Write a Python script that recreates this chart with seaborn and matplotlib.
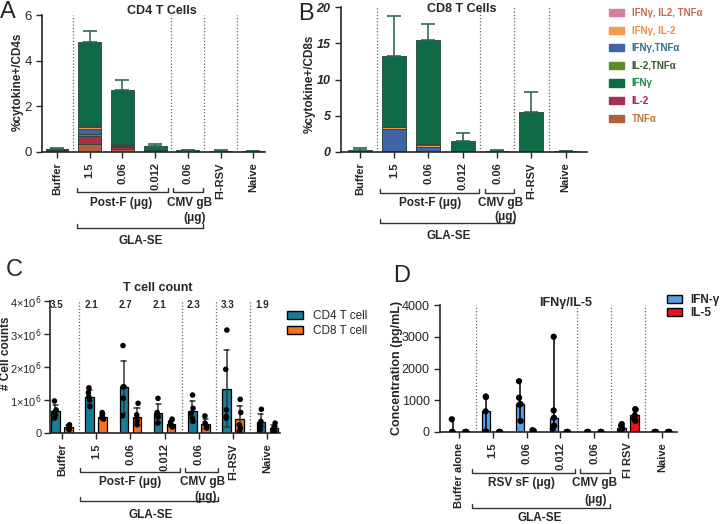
import numpy as np
import pandas as pd
import matplotlib.pyplot as plt
import seaborn as sns
from matplotlib import transforms
from matplotlib.patches import Patch

# ---- data ----
groups = ['Buffer', '1.5', '0.06', '0.012', 'CMV 0.06', 'FI-RSV', 'Naive']
labels_abc = ['Buffer', '1.5', '0.06', '0.012', '0.06', 'FI-RSV', 'Naive']
labels_d = ['Buffer alone', '1.5', '0.06', '0.012', '0.06', 'FI RSV', 'Naive']

# cytokine subsets, stacked bottom -> top
subsets = ['TNFα', 'IL-2', 'IL-2,TNFα', 'IFNγ,TNFα', 'IFNγ, IL-2', 'IFNγ, IL2, TNFα', 'IFNγ']
subset_colors = ['#b0603c', '#a8304f', '#5c8a2c', '#4064a6', '#f39a4c', '#d97ca0', '#0f6b46']
subset_text = ['#c0733a', '#b02040', '#2f5a2a', '#2f6f8f', '#f08a3c', '#c96a50', '#188a4a']

cd4_tnf = [0.03, 0.33, 0.12, 0.03, 0.02, 0.01, 0.01]
cd4_il2 = [0.06, 0.37, 0.10, 0.04, 0.03, 0.01, 0.01]
cd4_il2tnf = [0.01, 0.10, 0.04, 0.01, 0.00, 0.00, 0.00]
cd4_ifntnf = [0.01, 0.20, 0.04, 0.01, 0.00, 0.00, 0.00]
cd4_ifnil2 = [0.01, 0.10, 0.03, 0.01, 0.00, 0.00, 0.00]
cd4_triple = [0.00, 0.05, 0.02, 0.00, 0.00, 0.00, 0.00]
cd4_ifn = [0.03, 3.65, 2.35, 0.18, 0.02, 0.03, 0.01]
cd4_err = [0.03, 0.50, 0.45, 0.05, 0.02, 0.02, 0.01]

cd8_tnf = [0.02, 0.05, 0.03, 0.02, 0.02, 0.03, 0.01]
cd8_il2 = [0.03, 0.05, 0.03, 0.02, 0.02, 0.02, 0.01]
cd8_il2tnf = [0.00, 0.02, 0.01, 0.00, 0.00, 0.00, 0.00]
cd8_ifntnf = [0.02, 3.00, 0.65, 0.05, 0.01, 0.05, 0.01]
cd8_ifnil2 = [0.01, 0.30, 0.30, 0.03, 0.01, 0.02, 0.00]
cd8_triple = [0.00, 0.05, 0.03, 0.00, 0.00, 0.00, 0.00]
cd8_ifn = [0.22, 9.73, 14.45, 1.38, 0.09, 5.40, 0.07]
cd8_err = [0.25, 5.60, 2.10, 1.10, 0.15, 2.80, 0.05]

# T cell counts per mouse (x10^6)
cd4_counts = [[0.97, 0.70, 0.62, 0.55, 0.45], [1.37, 1.22, 1.10, 1.00, 0.80],
              [2.65, 1.40, 1.05, 1.40, 0.52], [1.05, 0.62, 0.55, 0.48, 0.30],
              [1.15, 0.75, 0.60, 0.45, 0.35], [3.12, 1.93, 0.70, 0.45, 0.50],
              [0.72, 0.35, 0.25, 0.20, 0.10]]
cd8_counts = [[0.25, 0.22, 0.18, 0.14, 0.10], [0.62, 0.52, 0.48, 0.45, 0.42],
              [0.90, 0.55, 0.45, 0.35, 0.25], [0.42, 0.32, 0.25, 0.22, 0.18],
              [0.52, 0.30, 0.22, 0.20, 0.15], [1.02, 0.62, 0.25, 0.15, 0.05],
              [0.30, 0.20, 0.15, 0.05, 0.05]]
ratio_labels = ['3.5', '2.1', '2.7', '2.1', '2.3', '3.3', '1.9']

# cytokine concentrations per mouse (pg/mL)
ifn_conc = [[400, 0, 0, 0, 0], [1120, 1100, 650, 20, 0], [1600, 1080, 880, 860, 350],
            [3000, 680, 450, 200, 100], [0, 0, 0, 0, 0], [250, 200, 130, 80, 50], [0, 0, 0, 0, 0]]
il5_conc = [[0, 0, 0, 0, 0], [0, 0, 0, 0, 0], [60, 30, 0, 0, 0], [0, 0, 0, 0, 0],
            [0, 0, 0, 0, 0], [720, 700, 520, 420, 350], [0, 0, 0, 0, 0]]

sns.set_style('ticks')
plt.rcParams['font.family'] = ['Liberation Sans', 'DejaVu Sans']

W, H = 720, 524
fig = plt.figure(figsize=(7.2, 5.24), dpi=100)


def add_ax(left, top, right, bottom):
    return fig.add_axes([left / W, 1 - bottom / H, (right - left) / W, (bottom - top) / H])


def ftext(x, y, s, **kw):
    fig.text(x / W, 1 - y / H, s, **kw)


def style_axes(ax, xlim, xlabels):
    ax.set_xlim(*xlim)
    for x in [0.5, 3.5, 4.5, 5.5]:
        ax.axvline(x, color='#666666', ls=(0, (1, 1.6)), lw=0.9, zorder=0)
    ax.set_xlabel('')
    ax.set_ylabel('')
    ax.set_xticks(range(len(xlabels)))
    ax.set_xticklabels(xlabels, rotation=90, fontweight='bold', fontsize=8)
    sns.despine(ax=ax)
    for s in ['left', 'bottom']:
        ax.spines[s].set_linewidth(1.2)
    ax.tick_params(width=1, length=4)


def bracket(ax, x0, x1, y, tick=0.03):
    tr = transforms.blended_transform_factory(ax.transData, ax.transAxes)
    ax.plot([x0, x0, x1, x1], [y + tick, y, y, y + tick], transform=tr,
            color='#333333', lw=1, clip_on=False)


def btext(ax, x, y, s):
    tr = transforms.blended_transform_factory(ax.transData, ax.transAxes)
    ax.text(x, y, s, transform=tr, ha='center', va='center', fontsize=8.5,
            fontweight='bold', clip_on=False)


def stacked(ax, layers, err):
    cum = np.cumsum(np.array(layers), axis=0)
    for i in reversed(range(len(layers))):
        sns.barplot(x=groups, y=cum[i], order=groups, color=subset_colors[i], saturation=1,
                    width=0.7, edgecolor='#24453a', linewidth=0.6, ax=ax)
    ax.errorbar(np.arange(len(groups)), cum[-1], yerr=[np.zeros(len(groups)), err],
                fmt='none', ecolor='#2e6a58', elinewidth=1.2, capsize=5, capthick=1.2)


# ---- A: CD4 ----
axA = add_ax(42, 15, 265, 152)
stacked(axA, [cd4_tnf, cd4_il2, cd4_il2tnf, cd4_ifntnf, cd4_ifnil2, cd4_triple, cd4_ifn], cd4_err)
axA.set_ylim(0, 6)
axA.set_yticks([0, 2, 4, 6])
style_axes(axA, (-0.46, 6.36), labels_abc)
axA.tick_params(axis='y', labelsize=9.5)
bracket(axA, 0.6, 3.4, -0.292)
bracket(axA, 3.55, 4.45, -0.292)
bracket(axA, 0.6, 4.45, -0.555)
btext(axA, 1.95, -0.375, 'Post-F (μg)')
btext(axA, 4.05, -0.375, 'CMV gB')
btext(axA, 4.2, -0.48, '(μg)')
btext(axA, 2.55, -0.65, 'GLA-SE')
ftext(18, 82, '%cytokine+/CD4s', rotation=90, ha='center', va='center', fontsize=8.5, fontweight='bold')
ftext(162, 11, 'CD4 T Cells', ha='center', va='center', fontsize=9, fontweight='bold')
ftext(8, 12, 'A', ha='center', va='center', fontsize=17)

# ---- B: CD8 ----
axB = add_ax(341, 7, 587, 152)
stacked(axB, [cd8_tnf, cd8_il2, cd8_il2tnf, cd8_ifntnf, cd8_ifnil2, cd8_triple, cd8_ifn], cd8_err)
axB.set_ylim(0, 20)
axB.set_yticks([0, 5, 10, 15, 20])
style_axes(axB, (-0.55, 6.62), labels_abc)
for t in axB.get_yticklabels():
    t.set_fontweight('bold')
    t.set_fontstyle('italic')
    t.set_fontsize(9)
bracket(axB, 0.58, 3.47, -0.283)
bracket(axB, 3.64, 4.5, -0.283)
bracket(axB, 0.58, 4.5, -0.49)
btext(axB, 2.05, -0.355, 'Post-F (μg)')
btext(axB, 4.1, -0.355, 'CMV gB')
btext(axB, 4.25, -0.45, '(μg)')
btext(axB, 2.6, -0.58, 'GLA-SE')
ftext(310, 84, '%cytokine+/CD8s', rotation=90, ha='center', va='center', fontsize=8.5, fontweight='bold')
ftext(462, 9, 'CD8 T Cells', ha='center', va='center', fontsize=9, fontweight='bold')
ftext(306, 14, 'B', ha='center', va='center', fontsize=17)

# legend for A/B (Prism lists the subsets top-down)
order = [5, 4, 3, 2, 6, 1, 0]
leg_handles = [Patch(facecolor=subset_colors[i], edgecolor=subset_colors[i]) for i in order]
fig.legend(leg_handles, [subsets[i] for i in order], loc='upper left',
           bbox_to_anchor=(609 / W, 1 - 8 / H), frameon=False, borderpad=0, borderaxespad=0,
           handlelength=1.55, handleheight=0.75, handletextpad=0.8, labelspacing=0.78,
           labelcolor=[subset_text[i] for i in order],
           prop={'size': 7, 'weight': 'bold'})

# ---- C: T cell counts ----
rows = []
for g, a, b in zip(groups, cd4_counts, cd8_counts):
    rows += [(g, 'CD4 T cell', v) for v in a]
    rows += [(g, 'CD8 T cell', v) for v in b]
counts = pd.DataFrame(rows, columns=['group', 'cell', 'count'])

axC = add_ax(50, 301, 280, 433)
cell_pal = {'CD4 T cell': '#1a7d97', 'CD8 T cell': '#f07320'}
sns.barplot(data=counts, x='group', y='count', hue='cell', order=groups, palette=cell_pal,
            saturation=1, errorbar='sd', capsize=0.3, width=0.76, gap=0.35,
            edgecolor='black', linewidth=0.9, err_kws={'color': '#333333', 'linewidth': 1.1},
            legend=False, ax=axC)
sns.stripplot(data=counts, x='group', y='count', hue='cell', order=groups, dodge=True,
              palette={'CD4 T cell': 'black', 'CD8 T cell': 'black'}, size=4, jitter=0.06,
              legend=False, ax=axC)
axC.set_ylim(0, 4)
axC.set_yticks([0, 1, 2, 3, 4])
axC.set_yticklabels(['0'] + [f'{k}×10$^6$' for k in range(1, 5)])
style_axes(axC, (-0.35, 6.37), labels_abc)
axC.tick_params(axis='y', labelsize=8, pad=2)
for i, r in enumerate(ratio_labels):
    axC.text(i - 0.15, 3.88, r, ha='center', va='center', fontsize=7, fontweight='bold')
bracket(axC, 0.53, 3.45, -0.295)
bracket(axC, 3.6, 4.56, -0.295)
bracket(axC, 0.53, 4.56, -0.515)
btext(axC, 2.0, -0.37, 'Post-F (μg)')
btext(axC, 4.1, -0.37, 'CMV gB')
btext(axC, 4.2, -0.485, '(μg)')
btext(axC, 2.6, -0.62, 'GLA-SE')
ftext(6, 353, '# Cell counts', rotation=90, ha='center', va='center', fontsize=8.5, fontweight='bold')
ftext(158, 288, 'T cell count', ha='center', va='center', fontsize=9, fontweight='bold')
ftext(14, 270, 'C', ha='center', va='center', fontsize=17)
fig.legend([Patch(facecolor=cell_pal[k], edgecolor='black') for k in cell_pal], list(cell_pal),
           loc='upper left', bbox_to_anchor=(287 / W, 1 - 310 / H), frameon=False, borderpad=0,
           borderaxespad=0, handlelength=1.35, handleheight=0.7, handletextpad=0.85,
           labelspacing=0.25, prop={'size': 8.5})

# ---- D: IFNγ / IL-5 ----
rows = []
for g, a, b in zip(groups, ifn_conc, il5_conc):
    rows += [(g, 'IFN-γ', v) for v in a]
    rows += [(g, 'IL-5', v) for v in b]
conc = pd.DataFrame(rows, columns=['group', 'cytokine', 'conc'])

axD = add_ax(440, 305, 677, 432)
cyt_pal = {'IFN-γ': '#5a9de6', 'IL-5': '#e8161b'}
sns.barplot(data=conc, x='group', y='conc', hue='cytokine', order=groups, palette=cyt_pal,
            saturation=1, estimator='median', errorbar=lambda v: (v.min(), v.max()),
            capsize=0, width=0.76, gap=0.35, edgecolor='black', linewidth=0.9,
            err_kws={'color': 'black', 'linewidth': 1.1}, legend=False, ax=axD)
sns.stripplot(data=conc, x='group', y='conc', hue='cytokine', order=groups, dodge=True,
              palette={'IFN-γ': 'black', 'IL-5': 'black'}, size=4.5, jitter=0.05,
              legend=False, ax=axD)
axD.set_ylim(0, 4000)
axD.set_yticks([0, 1000, 2000, 3000, 4000])
style_axes(axD, (-0.56, 6.45), labels_d)
axD.tick_params(axis='y', labelsize=9)
bracket(axD, 0.38, 3.43, -0.32)
bracket(axD, 3.58, 4.47, -0.32)
bracket(axD, 0.38, 4.47, -0.6)
btext(axD, 1.85, -0.4, 'RSV sF (μg)')
btext(axD, 4.0, -0.4, 'CMV gB')
btext(axD, 4.05, -0.535, '(μg)')
btext(axD, 2.4, -0.68, 'GLA-SE')
ftext(397, 368, 'Concentration (pg/mL)', rotation=90, ha='center', va='center', fontsize=9, fontweight='bold')
ftext(566, 303, 'IFNγ/IL-5', ha='center', va='center', fontsize=9, fontweight='bold')
ftext(402, 276, 'D', ha='center', va='center', fontsize=17)
fig.legend([Patch(facecolor=cyt_pal[k], edgecolor='black') for k in cyt_pal], list(cyt_pal),
           loc='upper left', bbox_to_anchor=(667 / W, 1 - 294 / H), frameon=False, borderpad=0,
           borderaxespad=0, handlelength=1.3, handleheight=0.7, handletextpad=0.7,
           labelspacing=0.1, prop={'size': 8.5, 'weight': 'bold'})

fig.savefig('out.png', dpi=100)
